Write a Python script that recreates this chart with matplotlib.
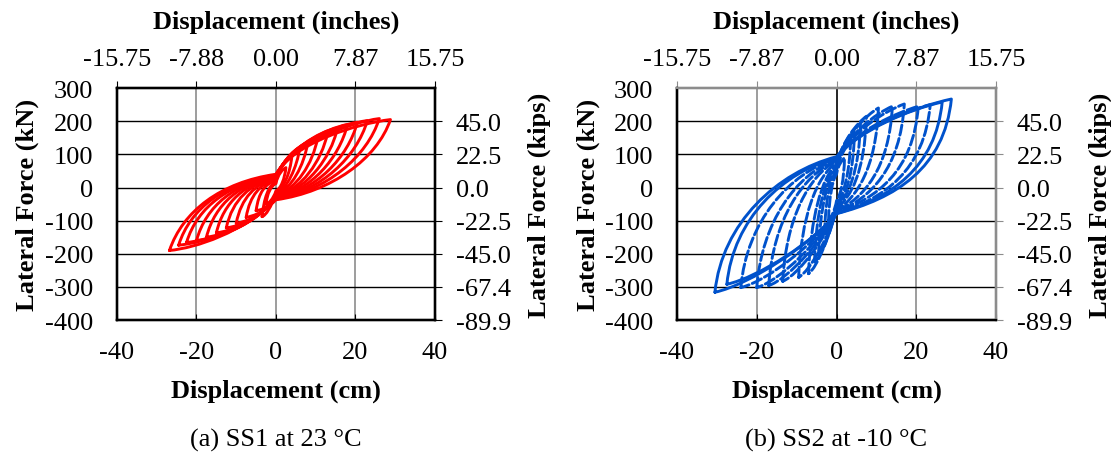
import numpy as np
import matplotlib
matplotlib.use("Agg")
import matplotlib.pyplot as plt
from matplotlib.path import Path
from matplotlib.patches import PathPatch

plt.rcParams['font.family'] = ['Liberation Serif', 'DejaVu Serif']
plt.rcParams['axes.unicode_minus'] = False

# ---- SS1 at 23 °C: cycle peaks (cm, kN) and forces at zero displacement ----
ss1_pos_disp = [2.5, 4.0, 6.0, 8.0, 10.5, 13.0, 15.5, 18.0, 20.5, 23.0, 26.0, 28.8]
ss1_pos_force = [60, 95, 120, 135, 150, 165, 180, 190, 197, 202, 208, 205]
ss1_neg_disp = [-2.5, -3.5, -5.0, -7.5, -10.0, -12.5, -15.0, -17.5, -20.0, -22.5, -24.5, -26.8]
ss1_neg_force = [-50, -88, -70, -90, -108, -122, -137, -150, -160, -166, -174, -190]
ss1_zero_up = [12, 18, 22, 25, 28, 30, 32, 34, 35, 36, 38, 40]
ss1_zero_lo = [-10, -14, -18, -20, -22, -25, -27, -29, -31, -33, -35, -37]

# ---- SS2 at -10 °C ----
ss2_pos_disp = [2.0, 3.5, 4.5, 6.0, 7.5, 10.5, 14.0, 17.0, 20.5, 23.5, 26.5, 28.8]
ss2_pos_force = [90, 140, 165, 195, 215, 240, 245, 252, 245, 250, 258, 267]
ss2_neg_disp = [-2.0, -3.0, -4.5, -5.5, -7.0, -9.5, -13.5, -17.0, -20.0, -24.0, -27.5, -30.5]
ss2_neg_force = [-100, -140, -200, -225, -260, -271, -283, -296, -302, -302, -292, -316]
ss2_zero_up = [40, 50, 60, 65, 70, 75, 80, 82, 85, 88, 90, 93]
ss2_zero_lo = [-40, -50, -55, -60, -65, -70, -72, -75, -75, -78, -78, -79]

# axis tick values and secondary-axis labels
cm_ticks = [-40, -20, 0, 20, 40]
kn_ticks = [-400, -300, -200, -100, 0, 100, 200, 300]
inch_labels_a = ['-15.75', '-7.88', '0.00', '7.87', '15.75']
inch_labels_b = ['-15.75', '-7.87', '0.00', '7.87', '15.75']
kip_ticks = [-400, -300, -200, -100, 0, 100, 200]
kip_labels = ['-89.9', '-67.4', '-45.0', '-22.5', '0.0', '22.5', '45.0']

# branch tangents as fractions of the cycle span.
# upper branch: leaving the negative peak, into / out of the zero crossing, into the positive peak
# lower branch: leaving the positive peak, into / out of the zero crossing, into the negative peak
shape_ss1_up = [(0.06, 0.30), (0.25, 0.06), (0.08, 0.24), (0.15, 0.03)]
shape_ss1_lo = [(0.06, 0.30), (0.25, 0.06), (0.15, 0.25), (0.12, 0.02)]
shape_ss2_up = [(0.03, 0.36), (0.25, 0.08), (0.10, 0.15), (0.15, 0.04)]
shape_ss2_lo = [(0.03, 0.36), (0.25, 0.08), (0.10, 0.15), (0.15, 0.04)]

FS = 19


def loop_path(dn, fn, dp, fp, fu, fl, sh_up, sh_lo):
    dx, df = dp - dn, fp - fn
    a, b, c, d = [np.array([u * dx, v * df]) for u, v in sh_up]
    e, f, g, h = [np.array([u * dx, v * df]) for u, v in sh_lo]
    N = np.array([dn, fn]); P = np.array([dp, fp])
    U = np.array([0.0, fu]); L = np.array([0.0, fl])
    verts = [N, N + a, U - b, U, U + c, P - d, P,
             P - e, L + f, L, L - g, N + h, N]
    codes = [Path.MOVETO] + [Path.CURVE4] * 12
    return Path(verts, codes)


def draw_panel(ax, pd, pf, nd, nf, zu, zl, sh_up, sh_lo, color, inch_labels, caption,
               dashed_upto, frame_grey):
    for k in range(len(pd)):
        ls = (0, (3.5, 1.2)) if k < dashed_upto else '-'
        p = loop_path(nd[k], nf[k], pd[k], pf[k], zu[k], zl[k], sh_up, sh_lo)
        ax.add_patch(PathPatch(p, fill=False, edgecolor=color, lw=2.1,
                               linestyle=ls, capstyle='round', joinstyle='round', zorder=3))
    ax.set_xlim(-40, 40)
    ax.set_ylim(-400, 300)
    ax.set_xticks(cm_ticks)
    ax.set_yticks(kn_ticks)
    for x in [-20, 0, 20]:
        c = 'black' if (x == 0 and frame_grey) else '#8c8c8c'
        ax.axvline(x, color=c, lw=1.2, zorder=1)
    for y in [-300, -200, -100, 0, 100, 200]:
        ax.axhline(y, color='black', lw=1.0, zorder=1)
    ax.tick_params(axis='x', labelsize=FS, direction='in', length=4, pad=15)
    ax.tick_params(axis='y', labelsize=FS, length=0, pad=17)
    for s in ax.spines.values():
        s.set_linewidth(1.6)
    ax.set_xlabel('Displacement (cm)', fontsize=FS, fontweight='bold', labelpad=11)
    ax.set_ylabel('Lateral Force (kN)', fontsize=FS, fontweight='bold', labelpad=4)

    top = ax.twiny()
    top.set_xlim(ax.get_xlim())
    top.set_xticks(cm_ticks)
    top.set_xticklabels(inch_labels)
    top.tick_params(axis='x', labelsize=FS, direction='out', length=5, pad=8)
    top.set_xlabel('Displacement (inches)', fontsize=FS, fontweight='bold', labelpad=15)

    right = ax.twinx()
    right.set_ylim(ax.get_ylim())
    right.set_yticks(kip_ticks)
    right.set_yticklabels(kip_labels)
    right.tick_params(axis='y', labelsize=FS, direction='out', length=5, pad=10)
    right.set_ylabel('Lateral Force (kips)', fontsize=FS, fontweight='bold', labelpad=12)
    for a in (top, right):
        for s in a.spines.values():
            s.set_linewidth(1.6)
    if frame_grey:
        for a in (ax, top, right):
            a.spines['top'].set_color('#8c8c8c')
            a.spines['right'].set_color('#8c8c8c')
        right.tick_params(axis='y', color='#8c8c8c')
        top.tick_params(axis='x', color='#8c8c8c')

    ax.text(0.5, -0.513, caption, transform=ax.transAxes, ha='center', va='center', fontsize=FS)


fig = plt.figure(figsize=(11.11, 4.6), dpi=100)
ax1 = fig.add_axes([0.1053, 0.302, 0.2862, 0.5043])
ax2 = fig.add_axes([0.6094, 0.302, 0.2871, 0.5043])

draw_panel(ax1, ss1_pos_disp, ss1_pos_force, ss1_neg_disp, ss1_neg_force,
           ss1_zero_up, ss1_zero_lo, shape_ss1_up, shape_ss1_lo, '#ff0000', inch_labels_a,
           '(a) SS1 at 23 °C', dashed_upto=0, frame_grey=False)
draw_panel(ax2, ss2_pos_disp, ss2_pos_force, ss2_neg_disp, ss2_neg_force,
           ss2_zero_up, ss2_zero_lo, shape_ss2_up, shape_ss2_lo, '#0052cc', inch_labels_b,
           '(b) SS2 at -10 °C', dashed_upto=10, frame_grey=True)

fig.savefig('out.png', dpi=100)
